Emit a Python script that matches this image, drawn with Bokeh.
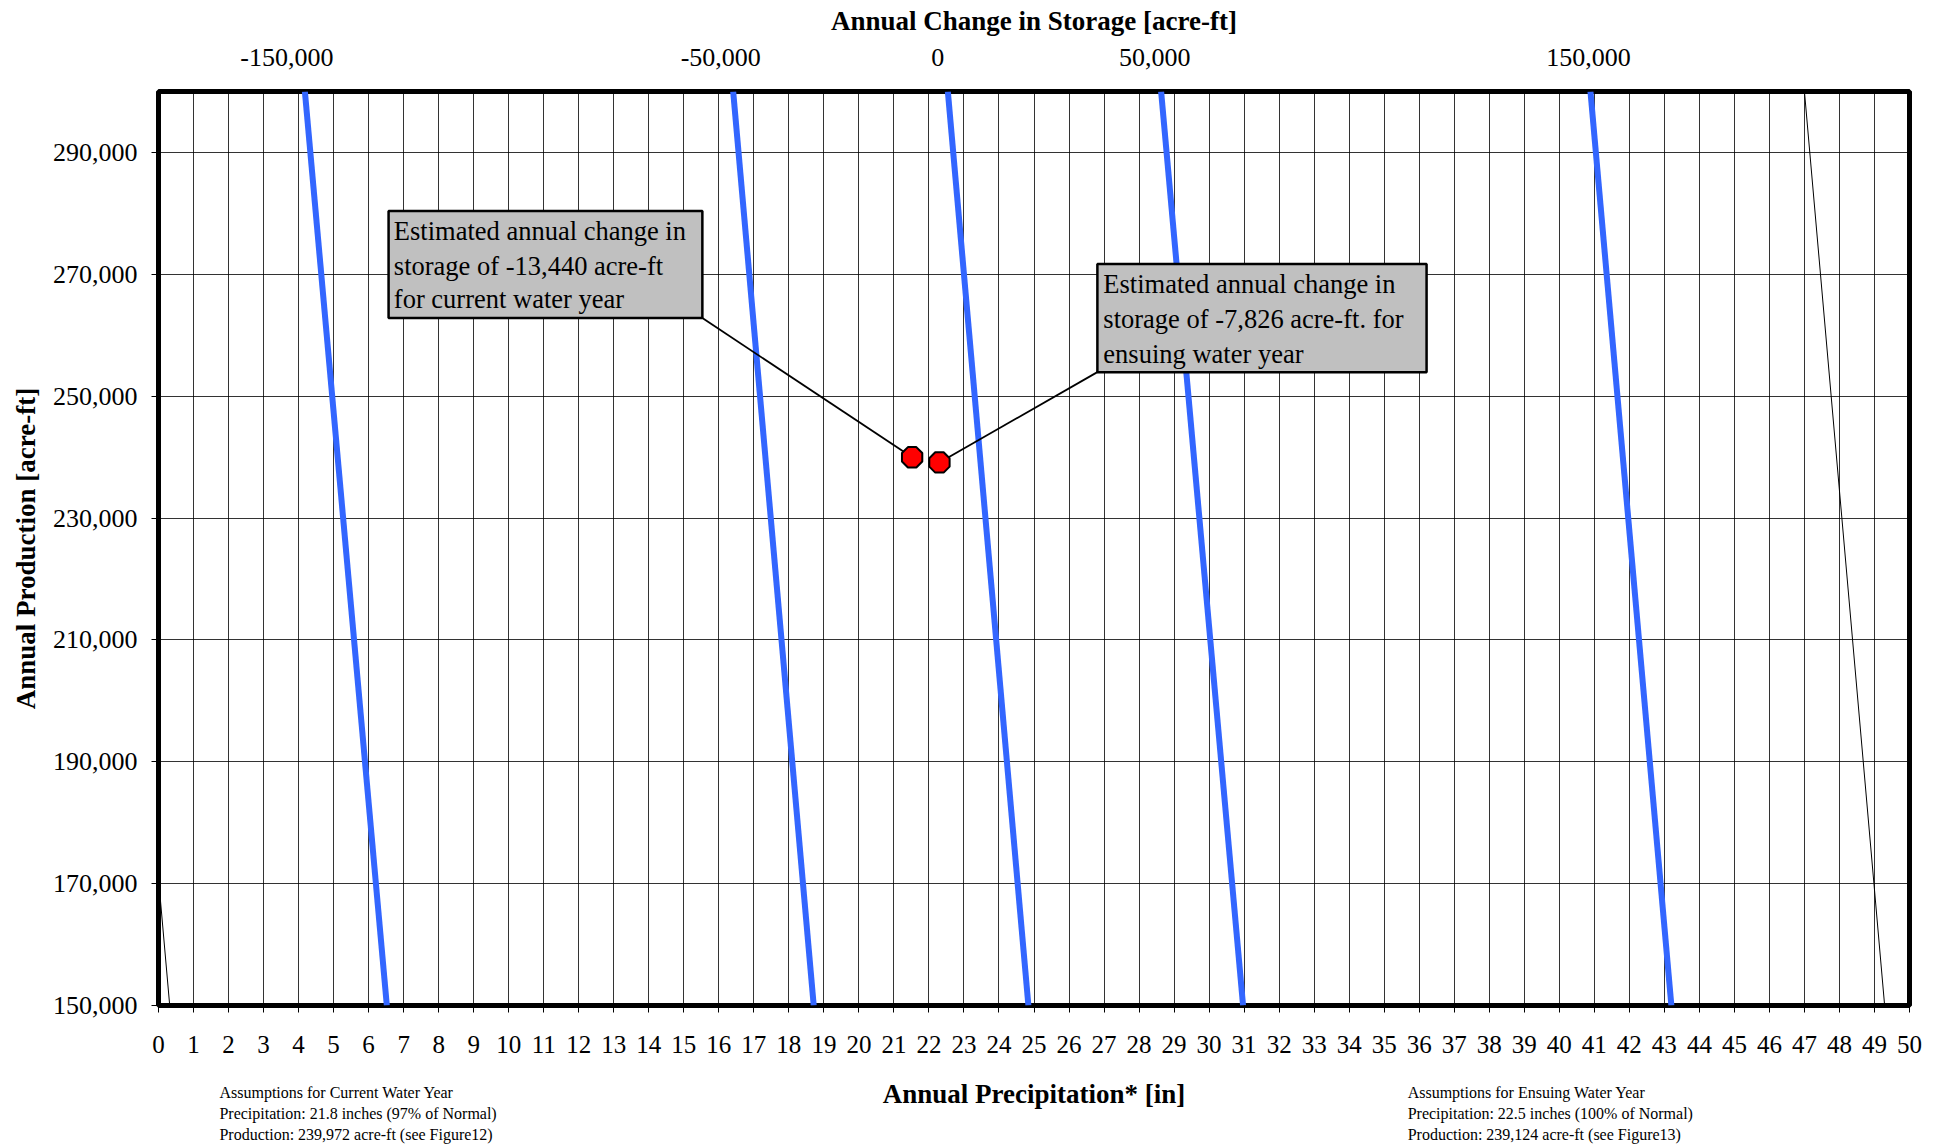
import math
from bokeh.plotting import figure
from bokeh.models import Range1d, LinearAxis, FixedTicker, NumeralTickFormatter
from bokeh.layouts import column
from bokeh.core.properties import value
from bokeh.embed import file_html
from bokeh.resources import INLINE

# ---------------- data ----------------
precip_ticks = list(range(0, 51))
production_ticks = [150000, 170000, 190000, 210000, 230000, 250000, 270000, 290000]
storage_ticks = [-150000, -50000, 0, 50000, 150000]

# iso-lines of annual change in storage (acre-ft)
storage_levels = [-200000, -150000, -50000, 0, 50000, 150000, 200000]
production_top = 300000
production_bottom = 150000
precip_at_top = [-1.98, 4.18, 16.41, 22.54, 28.63, 40.89, 47.00]
precip_at_bottom = [0.32, 6.52, 18.71, 24.84, 30.97, 43.20, 49.29]

# estimated points
point_names = ["Current Water Year", "Ensuing Water Year"]
point_precip = [21.52, 22.30]
point_production = [239972, 239124]

# top axis calibration (storage 0 at this precipitation, acre-ft per inch)
storage_zero_precip = 22.25
acre_ft_per_inch = 8071

box_texts = [
    ["Estimated annual change in", "storage of -13,440 acre-ft", "for current water year"],
    ["Estimated annual change in", "storage of -7,826 acre-ft. for", "ensuing water year"],
]
footnote_left = ["Assumptions for Current Water Year",
                 "Precipitation: 21.8 inches (97% of Normal)",
                 "Production: 239,972 acre-ft (see Figure12)"]
footnote_right = ["Assumptions for Ensuing Water Year",
                  "Precipitation: 22.5 inches (100% of Normal)",
                  "Production: 239,124 acre-ft (see Figure13)"]
x_title = "Annual Precipitation* [in]"

# ---------------- main chart ----------------
FONT = "Liberation Serif"
W = 1930
p = figure(width=W, height=1067,
           x_range=Range1d(0, 50), y_range=Range1d(production_bottom, production_top),
           output_backend="svg", toolbar_location=None,
           min_border_left=158, min_border_right=21, min_border_top=91, min_border_bottom=62,
           background_fill_color="white", border_fill_color="white")

p.outline_line_color = "black"
p.outline_line_width = 5

bx = p.below[0]
bx.ticker = FixedTicker(ticks=precip_ticks)
ly = p.left[0]
ly.ticker = FixedTicker(ticks=production_ticks)
ly.formatter = NumeralTickFormatter(format="0,0")
ly.axis_label = "Annual Production [acre-ft]"

p.extra_x_ranges = {"storage": Range1d(-storage_zero_precip * acre_ft_per_inch,
                                       (50 - storage_zero_precip) * acre_ft_per_inch)}
tx = LinearAxis(x_range_name="storage", ticker=FixedTicker(ticks=storage_ticks),
                formatter=NumeralTickFormatter(format="0,0"),
                axis_label="Annual Change in Storage [acre-ft]")
p.add_layout(tx, "above")

for ax in (bx, ly, tx):
    ax.major_label_text_font = FONT
    ax.major_label_text_color = "black"
    ax.axis_label_text_font = FONT
    ax.axis_label_text_font_size = "27px"
    ax.axis_label_text_font_style = "bold"
    ax.axis_label_text_color = "black"
    ax.axis_line_color = None
    ax.minor_tick_line_color = None
    ax.major_tick_line_color = "black"
    ax.major_tick_in = 0
    ax.major_tick_out = 7

tx.major_label_text_font_size = "26px"
bx.major_label_text_font_size = "25px"
ly.major_label_text_font_size = "26px"

tx.major_tick_line_color = None
tx.major_tick_out = 0
tx.major_label_standoff = 26
tx.axis_label_standoff = 10

bx.major_label_standoff = 23
ly.major_label_standoff = 14
ly.axis_label_standoff = 9

p.xgrid.ticker = FixedTicker(ticks=precip_ticks)
p.ygrid.ticker = FixedTicker(ticks=production_ticks)
for g in (p.xgrid, p.ygrid):
    g.grid_line_color = "black"
    g.grid_line_alpha = 0.8
    g.grid_line_width = 1

# iso-storage lines
for s, xt, xb in zip(storage_levels, precip_at_top, precip_at_bottom):
    labelled = s in storage_ticks
    p.line([xt, xb], [production_top, production_bottom],
           line_color="#3366FF" if labelled else "black",
           line_width=6 if labelled else 1)

# annotation boxes
box_x0 = [6.57, 26.81]
box_x1 = [15.53, 36.21]
box_ytop = [280378, 271675]
box_ybot = [262808, 253941]
text_x = [6.72, 26.98]
text_y = [[277093, 271346, 265928], [268391, 262644, 256897]]
anchor_x = [15.53, 26.81]
anchor_y = [262808, 253941]

for i in range(2):
    p.segment(x0=[anchor_x[i]], y0=[anchor_y[i]], x1=[point_precip[i]], y1=[point_production[i]],
              line_color="black", line_width=1.8)
p.quad(left=box_x0, right=box_x1, top=box_ytop, bottom=box_ybot,
       fill_color="#C0C0C0", line_color="black", line_width=2.5)
for i in range(2):
    p.text(x=[text_x[i]] * 3, y=text_y[i], text=box_texts[i],
           text_font=value(FONT), text_font_size="26.5px", text_color="black",
           text_baseline="middle", text_align="left")

# octagonal red markers
p.ngon(x=point_precip, y=point_production, radius=value(11, units="screen"), n=8,
       angle=math.pi / 8, fill_color="#FF0000", line_color="black", line_width=2)

# ---------------- strip below: x-axis title and assumptions ----------------
SH = 77
strip = figure(width=W, height=SH, x_range=p.x_range, y_range=Range1d(SH, 0),
               output_backend="svg", toolbar_location=None,
               x_axis_location=None, y_axis_location=None,
               min_border=0, min_border_left=158, min_border_right=21,
               min_border_top=0, min_border_bottom=0,
               background_fill_color="white", border_fill_color="white")
strip.outline_line_color = None
strip.grid.visible = False

strip.text(x=[25], y=[26], text=[x_title], text_font=value(FONT), text_font_size="27px",
           text_font_style="bold", text_color="black", text_align="center", text_baseline="middle")
foot_y = [25, 46, 67]
strip.text(x=[1.74] * 3, y=foot_y, text=footnote_left, text_font=value(FONT), text_font_size="16px",
           text_color="black", text_align="left", text_baseline="middle")
strip.text(x=[35.67] * 3, y=foot_y, text=footnote_right, text_font=value(FONT), text_font_size="16px",
           text_color="black", text_align="left", text_baseline="middle")

layout = column(p, strip, spacing=0)
open("out.html", "w").write(file_html(layout, INLINE))
